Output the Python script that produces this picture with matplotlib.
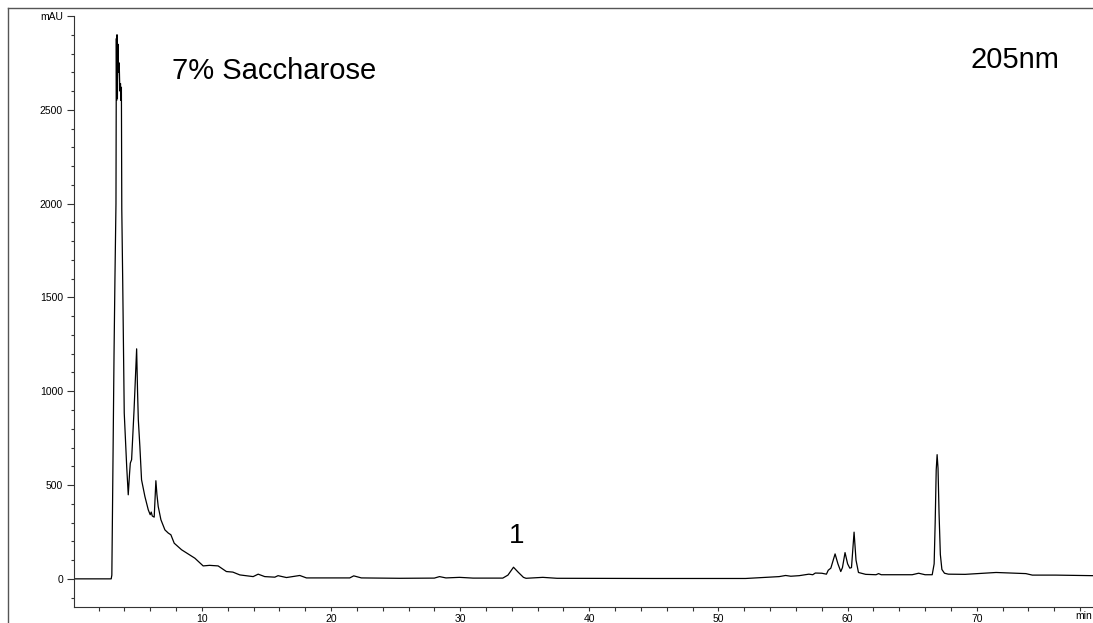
import matplotlib
matplotlib.use("Agg")
import matplotlib.pyplot as plt
from matplotlib.lines import Line2D
from matplotlib.ticker import MultipleLocator, FixedLocator, FixedFormatter

plt.rcParams['font.family'] = ['Liberation Sans', 'DejaVu Sans']

# retention time (min) and absorbance (mAU)
times = [0.1, 2.98, 3.03, 3.10, 3.20, 3.27, 3.35, 3.38, 3.40, 3.43, 3.46, 3.50, 3.55,
         3.60, 3.65, 3.70, 3.74, 3.77, 3.80, 3.87, 3.99, 4.18, 4.30, 4.40, 4.46, 4.56,
         4.75, 4.95, 5.02, 5.08, 5.20, 5.33, 5.59, 5.85, 6.00, 6.08, 6.16, 6.31, 6.44,
         6.52, 6.62, 6.83, 7.14, 7.40, 7.60, 7.86, 8.43, 9.46, 10.1, 10.6, 11.26, 11.9,
         12.4, 12.94, 13.97, 14.36, 14.87, 15.65, 15.9, 16.55, 17.58, 18.1, 21.45, 21.76,
         22.35, 25.3, 28.0, 28.4, 28.9, 29.95, 31.0, 33.3, 33.7, 34.13, 34.5, 34.9, 35.1,
         36.4, 37.5, 45.0, 52.1, 54.7, 55.2, 55.6, 56.25, 57.0, 57.3, 57.5, 58.0, 58.36,
         58.5, 58.7, 59.03, 59.25, 59.47, 59.6, 59.8, 60.0, 60.17, 60.3, 60.5, 60.65,
         60.84, 61.4, 62.2, 62.4, 62.6, 65.0, 65.5, 66.0, 66.55, 66.7, 66.78, 66.86,
         66.93, 67.0, 67.08, 67.18, 67.3, 67.5, 67.8, 69.1, 71.5, 73.8, 74.3, 76.1, 79.0]
mau = [0, 0, 20, 500, 1200, 1600, 2000, 2880, 2550, 2900, 2560, 2850, 2700,
       2750, 2600, 2640, 2550, 2620, 1970, 1595, 884, 599, 448, 560, 617, 635,
       900, 1226, 1000, 848, 706, 528, 439, 368, 342, 356, 335, 329, 523,
       450, 386, 315, 261, 244, 235, 190, 155, 110, 69, 72, 69, 39,
       36, 21, 12, 25, 12, 9, 17, 7, 18, 5, 5, 16,
       5, 3, 4, 12, 5, 8, 4, 4, 20, 62, 35, 8, 3,
       8, 3, 2, 2, 12, 18, 14, 17, 25, 22, 31, 30, 25,
       46, 57, 133, 80, 39, 60, 140, 80, 57, 60, 249, 100,
       34, 24, 22, 28, 22, 22, 30, 22, 22, 80, 300, 580,
       662, 590, 350, 130, 50, 30, 25, 24, 34, 28, 20, 20, 17]

x_ticks = [10, 20, 30, 40, 50, 60, 70]
x_labels = ['10', '20', '30', '40', '50', '60', '70']
y_ticks = [0, 500, 1000, 1500, 2000, 2500, 3000]
y_labels = ['0', '500', '1000', '1500', '2000', '2500', 'mAU']

W, H = 1093, 623
fig = plt.figure(figsize=(W / 100, H / 100), dpi=100)
ax = fig.add_axes([74 / W, 16 / H, 1 - 74 / W, 591 / H])
ax.plot(times, mau, color='black', lw=0.9)

ax.set_xlim(0.1, 79)
ax.set_ylim(-150, 3000)
for s in ['top', 'right']:
    ax.spines[s].set_visible(False)
for s in ['left', 'bottom']:
    ax.spines[s].set_color('#333333')
    ax.spines[s].set_linewidth(0.8)

ax.xaxis.set_major_locator(FixedLocator(x_ticks))
ax.xaxis.set_major_formatter(FixedFormatter(x_labels))
ax.xaxis.set_minor_locator(MultipleLocator(2))
ax.yaxis.set_major_locator(FixedLocator(y_ticks))
ax.yaxis.set_major_formatter(FixedFormatter(y_labels))
ax.yaxis.set_minor_locator(MultipleLocator(100))
ax.tick_params(axis='x', which='both', length=3, width=0.8, color='#333333',
               labelsize=7.5, pad=2)
ax.tick_params(axis='y', which='major', length=5, width=0.8, color='#333333',
               labelsize=7.5, pad=3)
ax.tick_params(axis='y', which='minor', length=2.5, width=0.8, color='#333333')

# axis unit label at the right end of the time axis
fig.text(1 - 1 / W, 1 - 611 / H, 'min', fontsize=7.5, ha='right', va='top')

# outer frame (left and top edges)
fig.add_artist(Line2D([8 / W, 8 / W], [0, 1 - 8 / H], transform=fig.transFigure,
                      color='#555555', lw=1))
fig.add_artist(Line2D([8 / W, 1], [1 - 8 / H, 1 - 8 / H], transform=fig.transFigure,
                      color='#555555', lw=1))

fig.text(172 / W, 1 - 79 / H, '7% Saccharose', fontsize=21, va='baseline')
fig.text(970 / W, 1 - 68 / H, '205nm', fontsize=21, va='baseline')
ax.text(34.4, 192, '1', fontsize=20, ha='center', va='baseline')

fig.savefig('out.png', dpi=100)
